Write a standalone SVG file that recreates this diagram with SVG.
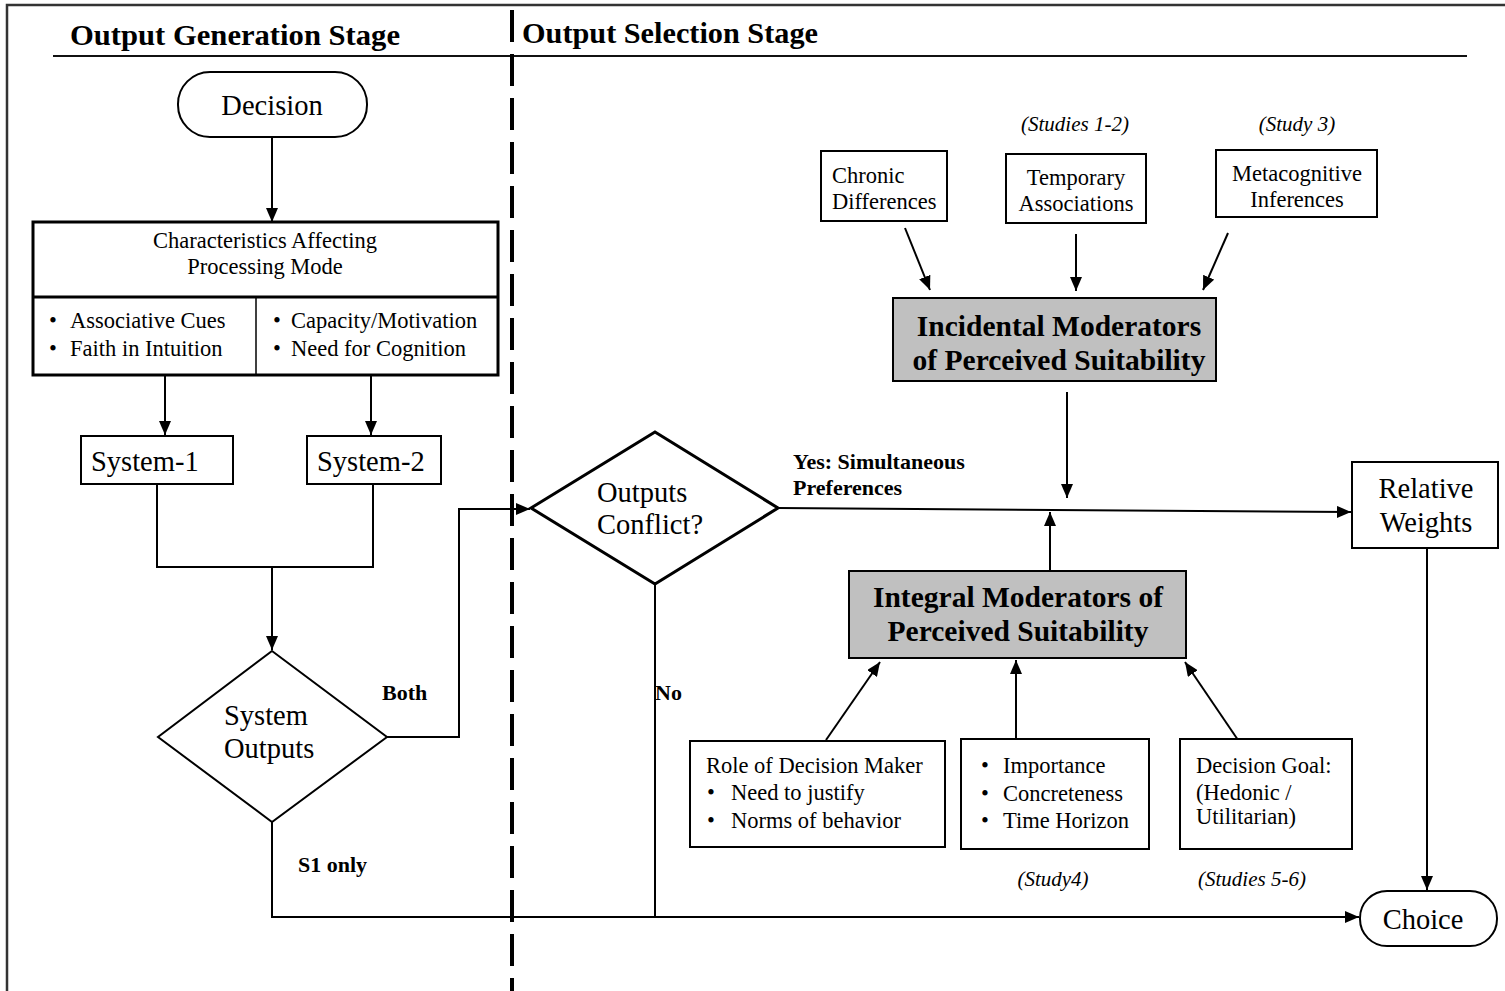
<svg xmlns="http://www.w3.org/2000/svg" width="1505" height="991" viewBox="0 0 1505 991">
<style>
  text { font-family: "Liberation Serif", "Times New Roman", serif; fill: #000; }
  .big { font-size: 28.5px; }
  .med { font-size: 22.5px; }
  .lab { font-size: 22px; font-weight: bold; }
  .head { font-size: 29px; font-weight: bold; }
  .mod { font-size: 29.5px; font-weight: bold; }
  .it { font-size: 21px; font-style: italic; }
  .box { fill: #fff; stroke: #000; stroke-width: 2; }
  .grey { fill: #c0c0c0; stroke: #000; stroke-width: 2; }
  .ln { fill: none; stroke: #000; stroke-width: 2; }
  .arr { fill: none; stroke: #000; stroke-width: 2; marker-end: url(#ah); }
  .c { text-anchor: middle; }
</style>
<defs>
  <marker id="ah" viewBox="0 0 14 12" refX="14" refY="6" markerWidth="14" markerHeight="12" markerUnits="userSpaceOnUse" orient="auto">
    <path d="M0,0 L14,6 L0,12 z" fill="#000"/>
  </marker>
</defs>
<rect width="1505" height="991" fill="#fff"/>

<g id="frame">
  <path d="M7,991 V5 H1505" fill="none" stroke="#333" stroke-width="2.5"/>
  <line x1="53" y1="56" x2="1467" y2="56" stroke="#111" stroke-width="2"/>
  <line x1="512" y1="10" x2="512" y2="991" stroke="#000" stroke-width="4" stroke-dasharray="32 12"/>
  <text class="head" x="70" y="45" textLength="330" lengthAdjust="spacingAndGlyphs">Output Generation Stage</text>
  <text class="head" x="522" y="43" textLength="296" lengthAdjust="spacingAndGlyphs">Output Selection Stage</text>
</g>

<g id="connectors">
  <line class="arr" x1="272" y1="137" x2="272" y2="222"/>
  <line class="arr" x1="165" y1="375" x2="165" y2="435"/>
  <line class="arr" x1="371" y1="375" x2="371" y2="435"/>
  <path class="ln" d="M157,484 V567 H373 V484"/>
  <line class="arr" x1="272" y1="567" x2="272" y2="650"/>
  <path class="arr" d="M387,737 H459 V509 H530"/>
  <path class="arr" d="M272,822 V917 H1359"/>
  <line class="ln" x1="655" y1="584" x2="655" y2="917"/>
  <line class="arr" x1="778" y1="508" x2="1351" y2="512"/>
  <line class="arr" x1="1427" y1="548" x2="1427" y2="890"/>
  <line class="arr" x1="905" y1="228" x2="930" y2="290"/>
  <line class="arr" x1="1076" y1="234" x2="1076" y2="291"/>
  <line class="arr" x1="1228" y1="233" x2="1203" y2="290"/>
  <line class="arr" x1="1067" y1="392" x2="1067" y2="498"/>
  <line class="arr" x1="1050" y1="571" x2="1050" y2="512"/>
  <line class="arr" x1="826" y1="740" x2="880" y2="662"/>
  <line class="arr" x1="1016" y1="738" x2="1016" y2="660"/>
  <line class="arr" x1="1238" y1="740" x2="1185" y2="662"/>
  <text class="lab" x="382" y="700">Both</text>
  <text class="lab" x="298" y="872">S1 only</text>
  <text class="lab" x="655" y="700">No</text>
  <text class="lab" x="793" y="469">Yes: Simultaneous</text>
  <text class="lab" x="793" y="495">Preferences</text>
</g>

<g id="decision">
  <rect class="box" x="178" y="72" width="189" height="65" rx="32" ry="32"/>
  <text class="big c" x="272" y="115">Decision</text>
</g>

<g id="characteristics">
  <rect x="33" y="222" width="465" height="153" fill="#fff" stroke="#000" stroke-width="3"/>
  <line x1="33" y1="297" x2="498" y2="297" stroke="#000" stroke-width="3"/>
  <line x1="256" y1="297" x2="256" y2="375" stroke="#000" stroke-width="1.5"/>
  <text class="med c" x="265" y="248">Characteristics Affecting</text>
  <text class="med c" x="265" y="274">Processing Mode</text>
  <text class="med" x="49" y="328">•</text>
  <text class="med" x="70" y="328">Associative Cues</text>
  <text class="med" x="49" y="356">•</text>
  <text class="med" x="70" y="356">Faith in Intuition</text>
  <text class="med" x="273" y="328">•</text>
  <text class="med" x="291" y="328">Capacity/Motivation</text>
  <text class="med" x="273" y="356">•</text>
  <text class="med" x="291" y="356">Need for Cognition</text>
</g>

<g id="system1">
  <rect class="box" x="81" y="436" width="152" height="48"/>
  <text class="big" x="91" y="471">System-1</text>
</g>

<g id="system2">
  <rect class="box" x="307" y="436" width="134" height="48"/>
  <text class="big" x="317" y="471">System-2</text>
</g>

<g id="system-outputs">
  <polygon class="box" points="272,651 387,737 272,822 158,737"/>
  <text class="big" x="224" y="725">System</text>
  <text class="big" x="224" y="758">Outputs</text>
</g>

<g id="outputs-conflict">
  <polygon points="531,508 655,432 778,508 655,584" fill="#fff" stroke="#000" stroke-width="3"/>
  <text class="big" x="597" y="502">Outputs</text>
  <text class="big" x="597" y="534">Conflict?</text>
</g>

<g id="relative-weights">
  <rect class="box" x="1352" y="462" width="146" height="86"/>
  <text class="big c" x="1426" y="498">Relative</text>
  <text class="big c" x="1426" y="532">Weights</text>
</g>

<g id="choice">
  <rect class="box" x="1360" y="891" width="137" height="55" rx="27" ry="27"/>
  <text class="big c" x="1423" y="929">Choice</text>
</g>

<g id="chronic">
  <rect class="box" x="821" y="151" width="126" height="70"/>
  <text class="med" x="832" y="183">Chronic</text>
  <text class="med" x="832" y="209">Differences</text>
</g>

<g id="temporary">
  <text class="it c" x="1075" y="131">(Studies 1-2)</text>
  <rect class="box" x="1006" y="154" width="140" height="69"/>
  <text class="med c" x="1076" y="185">Temporary</text>
  <text class="med c" x="1076" y="211">Associations</text>
</g>

<g id="metacognitive">
  <text class="it c" x="1297" y="131">(Study 3)</text>
  <rect class="box" x="1216" y="150" width="161" height="67"/>
  <text class="med c" x="1297" y="181">Metacognitive</text>
  <text class="med c" x="1297" y="207">Inferences</text>
</g>

<g id="incidental">
  <rect class="grey" x="893" y="298" width="323" height="83"/>
  <text class="mod c" x="1059" y="336">Incidental Moderators</text>
  <text class="mod c" x="1059" y="370">of Perceived Suitability</text>
</g>

<g id="integral">
  <rect class="grey" x="849" y="571" width="337" height="87"/>
  <text class="mod c" x="1018" y="607">Integral Moderators of</text>
  <text class="mod c" x="1018" y="641">Perceived Suitability</text>
</g>

<g id="role">
  <rect class="box" x="690" y="741" width="255" height="106"/>
  <text class="med" x="706" y="773">Role of Decision Maker</text>
  <text class="med" x="707" y="800">•</text>
  <text class="med" x="731" y="800">Need to justify</text>
  <text class="med" x="707" y="828">•</text>
  <text class="med" x="731" y="828">Norms of behavior</text>
</g>

<g id="importance">
  <rect class="box" x="961" y="739" width="188" height="110"/>
  <text class="med" x="981" y="773">•</text>
  <text class="med" x="1003" y="773">Importance</text>
  <text class="med" x="981" y="801">•</text>
  <text class="med" x="1003" y="801">Concreteness</text>
  <text class="med" x="981" y="828">•</text>
  <text class="med" x="1003" y="828">Time Horizon</text>
  <text class="it c" x="1053" y="886">(Study4)</text>
</g>

<g id="decision-goal">
  <rect class="box" x="1180" y="739" width="172" height="110"/>
  <text class="med" x="1196" y="773">Decision Goal:</text>
  <text class="med" x="1196" y="800">(Hedonic /</text>
  <text class="med" x="1196" y="824">Utilitarian)</text>
  <text class="it c" x="1252" y="886">(Studies 5-6)</text>
</g>
</svg>
